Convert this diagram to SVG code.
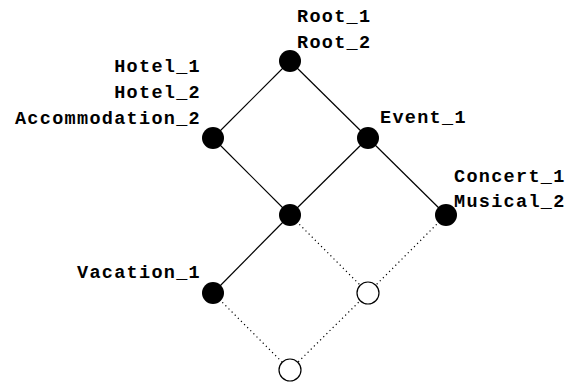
<svg xmlns="http://www.w3.org/2000/svg" width="576" height="385" viewBox="0 0 576 385">
<style>
.t{font-family:"Liberation Mono","Courier New",monospace;font-weight:bold;font-size:18.5px;letter-spacing:1.3px;fill:#000}
.e{text-anchor:end}
.s{stroke:#000;stroke-width:1.2;fill:none}
.d{stroke:#000;stroke-width:1.2;fill:none;stroke-dasharray:1.2 3.2}
.f{fill:#000}
.o{fill:#fff;stroke:#000;stroke-width:1.2}
</style>
<rect width="576" height="385" fill="#fff"/>
<g id="connectors">
<line class="s" x1="290" y1="61" x2="213" y2="138"/>
<line class="s" x1="290" y1="61" x2="368" y2="138"/>
<line class="s" x1="213" y1="138" x2="290" y2="215"/>
<line class="s" x1="368" y1="138" x2="290" y2="215"/>
<line class="s" x1="368" y1="138" x2="446" y2="215"/>
<line class="s" x1="290" y1="215" x2="213" y2="293"/>
<line class="d" x1="290" y1="215" x2="368" y2="293"/>
<line class="d" x1="446" y1="215" x2="368" y2="293"/>
<line class="d" x1="213" y1="293" x2="290" y2="370"/>
<line class="d" x1="368" y1="293" x2="290" y2="370"/>
</g>
<g id="root"><circle class="f" cx="290" cy="61" r="11"/><text class="t" x="297" y="22">Root_1</text><text class="t" x="297" y="48">Root_2</text></g>
<g id="hotel"><circle class="f" cx="213" cy="138" r="11"/><text class="t e" x="201" y="72">Hotel_1</text><text class="t e" x="201" y="98">Hotel_2</text><text class="t e" x="201" y="124">Accommodation_2</text></g>
<g id="event"><circle class="f" cx="368" cy="138" r="11"/><text class="t" x="380" y="123">Event_1</text></g>
<g id="middle"><circle class="f" cx="290" cy="215" r="11"/></g>
<g id="concert"><circle class="f" cx="446" cy="215" r="11"/><text class="t" x="454" y="182">Concert_1</text><text class="t" x="454" y="207">Musical_2</text></g>
<g id="vacation"><circle class="f" cx="213" cy="293" r="11"/><text class="t" x="77" y="278">Vacation_1</text></g>
<g id="empty1"><circle class="o" cx="368" cy="293" r="11"/></g>
<g id="empty2"><circle class="o" cx="290" cy="370" r="11"/></g>
</svg>
